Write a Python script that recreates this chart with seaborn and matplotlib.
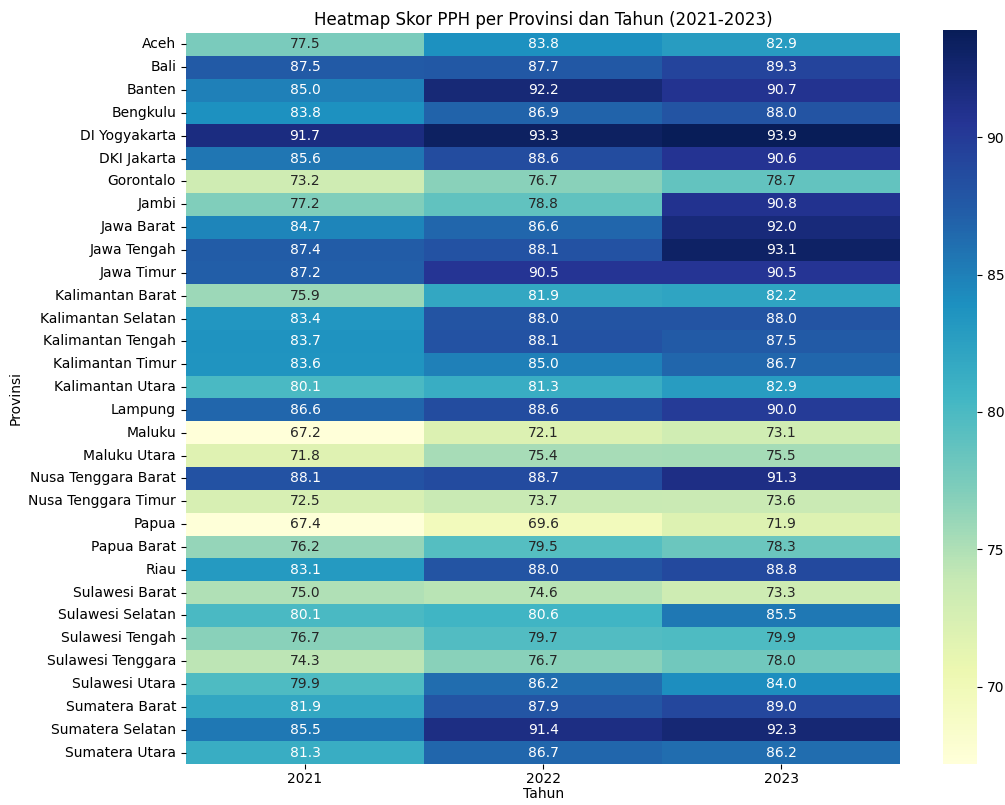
import numpy as np
import pandas as pd
import matplotlib
matplotlib.use("Agg")
import matplotlib.pyplot as plt
import seaborn as sns

provinsi = [
    "Aceh", "Bali", "Banten", "Bengkulu", "DI Yogyakarta", "DKI Jakarta",
    "Gorontalo", "Jambi", "Jawa Barat", "Jawa Tengah", "Jawa Timur",
    "Kalimantan Barat", "Kalimantan Selatan", "Kalimantan Tengah",
    "Kalimantan Timur", "Kalimantan Utara", "Lampung", "Maluku",
    "Maluku Utara", "Nusa Tenggara Barat", "Nusa Tenggara Timur", "Papua",
    "Papua Barat", "Riau", "Sulawesi Barat", "Sulawesi Selatan",
    "Sulawesi Tengah", "Sulawesi Tenggara", "Sulawesi Utara",
    "Sumatera Barat", "Sumatera Selatan", "Sumatera Utara",
]
tahun = ["2021", "2022", "2023"]

skor_2021 = [77.5, 87.5, 85.0, 83.8, 91.7, 85.6, 73.2, 77.2, 84.7, 87.4, 87.2,
             75.9, 83.4, 83.7, 83.6, 80.1, 86.6, 67.2, 71.8, 88.1, 72.5, 67.4,
             76.2, 83.1, 75.0, 80.1, 76.7, 74.3, 79.9, 81.9, 85.5, 81.3]
skor_2022 = [83.8, 87.7, 92.2, 86.9, 93.3, 88.6, 76.7, 78.8, 86.6, 88.1, 90.5,
             81.9, 88.0, 88.1, 85.0, 81.3, 88.6, 72.1, 75.4, 88.7, 73.7, 69.6,
             79.5, 88.0, 74.6, 80.6, 79.7, 76.7, 86.2, 87.9, 91.4, 86.7]
skor_2023 = [82.9, 89.3, 90.7, 88.0, 93.9, 90.6, 78.7, 90.8, 92.0, 93.1, 90.5,
             82.2, 88.0, 87.5, 86.7, 82.9, 90.0, 73.1, 75.5, 91.3, 73.6, 71.9,
             78.3, 88.8, 73.3, 85.5, 79.9, 78.0, 84.0, 89.0, 92.3, 86.2]

pivot = pd.DataFrame(
    dict(zip(tahun, [skor_2021, skor_2022, skor_2023])),
    index=pd.Index(provinsi, name="Provinsi"),
)
pivot.columns.name = "Tahun"

fig = plt.figure(figsize=(10.05, 8.05), dpi=100)
ax = fig.add_axes([0.185, 0.051, 0.711, 0.908])
cax = fig.add_axes([0.938, 0.051, 0.034, 0.912])

sns.heatmap(pivot, annot=True, fmt=".1f", cmap="YlGnBu", ax=ax, cbar_ax=cax,
            annot_kws={"fontsize": 10})
ax.set_title("Heatmap Skor PPH per Provinsi dan Tahun (2021-2023)", fontsize=12)
ax.tick_params(axis="x", pad=2)
ax.set_xlabel("Tahun", labelpad=1)
ax.set_ylabel("Provinsi")

fig.savefig("out.png", dpi=100)
